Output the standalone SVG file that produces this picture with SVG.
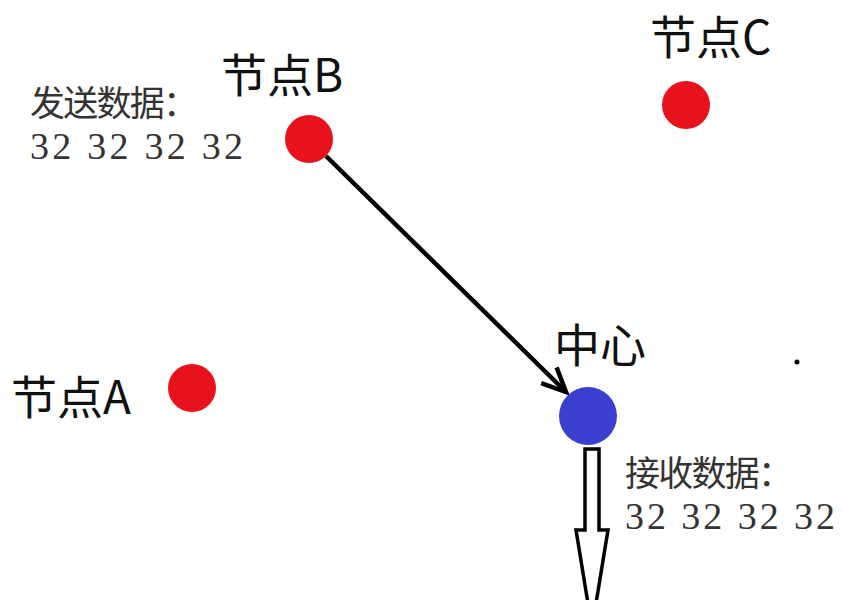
<svg xmlns="http://www.w3.org/2000/svg" width="843" height="600" viewBox="0 0 843 600">
<style>
.lbl{font-family:"Noto Sans CJK SC","Noto Sans",sans-serif;font-size:46px;fill:#111}
.dat{font-family:"Liberation Serif","Noto Sans CJK SC",serif;font-size:35px;fill:#333}
.num{font-family:"Liberation Serif",serif;font-size:38px;fill:#333}
.red{fill:#e8121c}
.blue{fill:#3a3fd0}
</style>
<defs>
<marker id="vhead" markerWidth="30" markerHeight="30" refX="26" refY="15" orient="auto" markerUnits="userSpaceOnUse">
<path d="M2,4 L26,15 L2,26" fill="none" stroke="#000" stroke-width="4.5"/>
</marker>
</defs>
<rect width="843" height="600" fill="#fff"/>
<g id="connectors">
<line x1="326" y1="156" x2="566" y2="392" stroke="#000" stroke-width="4.5" marker-end="url(#vhead)"/>
<path d="M585,449 L599,449 L599,530 L608,530 L592,628 L576,530 L585,530 Z" fill="#fff" stroke="#000" stroke-width="3.5"/>
</g>
<g id="nodeB">
<circle class="red" cx="309" cy="139" r="24"/>
<text class="lbl" x="221" y="92">节点B</text>
<text class="dat" x="30" y="116" textLength="168">发送数据：</text>
<text class="num" x="30" y="159" textLength="213">32 32 32 32</text>
</g>
<g id="nodeC">
<circle class="red" cx="686" cy="105" r="24"/>
<text class="lbl" x="650" y="54">节点C</text>
</g>
<g id="nodeA">
<circle class="red" cx="192" cy="388" r="24"/>
<text class="lbl" x="11" y="414">节点A</text>
</g>
<g id="center">
<circle class="blue" cx="588" cy="416" r="29"/>
<text class="lbl" x="554" y="362">中心</text>
<text class="dat" x="625" y="486" textLength="168">接收数据：</text>
<text class="num" x="625" y="529" textLength="210">32 32 32 32</text>
</g>
<circle cx="797" cy="362" r="2.5" fill="#000"/>
</svg>
